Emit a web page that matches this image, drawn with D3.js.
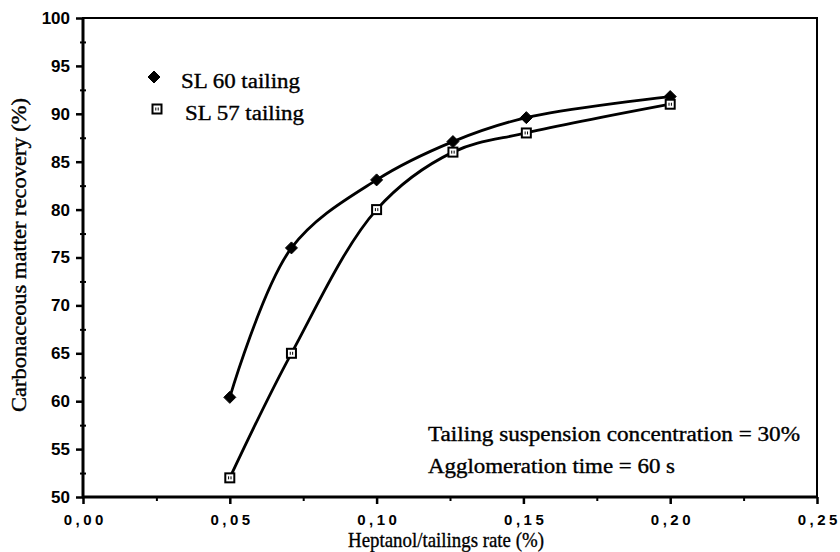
<!DOCTYPE html>
<html>
<head>
<meta charset="UTF-8">
<script src="https://d3js.org/d3.v7.min.js"></script>
<style>
  body { margin: 0; background: #fff; }
  .tick text { font-family: "Liberation Sans", Arial, sans-serif; font-weight: bold; fill: #000; }
  .serif { font-family: "Liberation Serif", "Times New Roman", serif; fill: #000; stroke: #000; stroke-width: 0.35px; }
</style>
</head>
<body>
<svg id="chart" width="840" height="552"></svg>
<script>
  // rate (%) and recovery (%)
  var rates60 = [0.05, 0.071, 0.10, 0.126, 0.151, 0.20];
  var recov60 = [60.4, 76.0, 83.1, 87.1, 89.6, 91.8];
  var rates57 = [0.05, 0.071, 0.10, 0.126, 0.151, 0.20];
  var recov57 = [52.0, 65.0, 80.0, 86.0, 88.0, 91.0];
  var xTicks = [0, 0.05, 0.10, 0.15, 0.20, 0.25];
  var yTicks = [50, 55, 60, 65, 70, 75, 80, 85, 90, 95, 100];
  var notes = ["Tailing suspension concentration = 30%", "Agglomeration time = 60 s"];
  var noteWidths = [372, 247];

  var svg = d3.select("#chart");
  var pLeft = 83, pRight = 817, pTop = 18, pBottom = 497;

  var x = d3.scaleLinear().domain([0, 0.25]).range([pLeft, pRight]);
  var y = d3.scaleLinear().domain([50, 100]).range([pBottom, pTop]);

  // minor ticks halfway between the majors
  var xMinor = xTicks.slice(0, -1).map(v => v + 0.025);
  var yMinor = yTicks.slice(0, -1).map(v => v + 2.5);

  svg.append("g").attr("transform", "translate(0," + pBottom + ")")
    .call(d3.axisBottom(x).tickValues(xMinor).tickSize(4).tickFormat(""))
    .call(g => g.select(".domain").remove())
    .selectAll("line").attr("stroke-width", 2);

  svg.append("g").attr("transform", "translate(" + pLeft + ",0)")
    .call(d3.axisLeft(y).tickValues(yMinor).tickSize(3).tickFormat(""))
    .call(g => g.select(".domain").remove())
    .selectAll("line").attr("stroke-width", 2).attr("x2", 3).attr("x1", -3);

  var fmt = d => d.toFixed(2).replace(".", ",");

  svg.append("g").attr("transform", "translate(0," + pBottom + ")")
    .call(d3.axisBottom(x).tickValues(xTicks).tickSize(7).tickPadding(10).tickFormat(fmt))
    .call(g => g.select(".domain").remove())
    .call(g => g.selectAll("text").style("font-size", "15px").attr("letter-spacing", "3.5px").attr("dx", "1.75px"))
    .selectAll("line").attr("stroke-width", 2.5);

  svg.append("g").attr("transform", "translate(" + pLeft + ",0)")
    .call(d3.axisLeft(y).tickValues(yTicks).tickSize(7).tickPadding(6))
    .call(g => g.select(".domain").remove())
    .call(g => g.selectAll("text").style("font-size", "17px"))
    .selectAll("line").attr("stroke-width", 2.5);

  // frame
  svg.append("rect")
    .attr("x", pLeft).attr("y", pTop)
    .attr("width", pRight - pLeft).attr("height", pBottom - pTop)
    .attr("fill", "none").attr("stroke", "#000").attr("stroke-width", 2);
  svg.append("line").attr("x1", pLeft).attr("x2", pLeft).attr("y1", pTop).attr("y2", pBottom + 1)
    .attr("stroke", "#000").attr("stroke-width", 3);
  svg.append("line").attr("x1", pLeft - 1).attr("x2", pRight).attr("y1", pBottom).attr("y2", pBottom)
    .attr("stroke", "#000").attr("stroke-width", 3);

  // curves
  var line = d3.line().curve(d3.curveCatmullRom.alpha(0.5))
    .x(d => x(d[0])).y(d => y(d[1]));

  var s60 = rates60.map((r, i) => [r, recov60[i]]);
  var s57 = rates57.map((r, i) => [r, recov57[i]]);

  [s60, s57].forEach(s => {
    svg.append("path").datum(s).attr("d", line)
      .attr("fill", "none").attr("stroke", "#000").attr("stroke-width", 2.8);
  });

  // squat filled diamond like the original marker
  var diamond = "M0,-6L6,0L0,6L-6,0Z";

  svg.selectAll(".m60").data(s60).enter().append("path")
    .attr("transform", d => "translate(" + x(d[0]) + "," + y(d[1]) + ")")
    .attr("d", diamond).attr("fill", "#000")
    .attr("stroke", "#000").attr("stroke-width", 1).attr("stroke-linejoin", "round");

  function square(g, cx, cy) {
    g.append("rect").attr("x", cx - 4.5).attr("y", cy - 4.5).attr("width", 9).attr("height", 9)
      .attr("fill", "#fff").attr("stroke", "#000").attr("stroke-width", 2);
    g.append("line").attr("x1", cx - 1.2).attr("x2", cx - 1.2).attr("y1", cy - 1.5).attr("y2", cy + 1.5)
      .attr("stroke", "#000").attr("stroke-width", 1);
    g.append("line").attr("x1", cx + 1.2).attr("x2", cx + 1.2).attr("y1", cy - 1.5).attr("y2", cy + 1.5)
      .attr("stroke", "#000").attr("stroke-width", 1);
  }

  var g57 = svg.append("g");
  s57.forEach(d => square(g57, x(d[0]), y(d[1])));

  // legend
  var leg = svg.append("g");
  leg.append("path").attr("transform", "translate(154,77)").attr("d", diamond).attr("fill", "#000")
    .attr("stroke", "#000").attr("stroke-width", 1).attr("stroke-linejoin", "round");
  leg.append("text").attr("class", "serif").attr("x", 181).attr("y", 88)
    .attr("textLength", 119).attr("lengthAdjust", "spacingAndGlyphs")
    .style("font-size", "20px").text("SL 60 tailing");
  square(leg, 157, 109);
  leg.append("text").attr("class", "serif").attr("x", 185).attr("y", 120)
    .attr("textLength", 119).attr("lengthAdjust", "spacingAndGlyphs")
    .style("font-size", "20px").text("SL 57 tailing");

  // notes
  svg.selectAll(".note").data(notes).enter().append("text")
    .attr("class", "serif")
    .attr("x", 428).attr("y", (d, i) => 441 + i * 32)
    .attr("textLength", (d, i) => noteWidths[i]).attr("lengthAdjust", "spacingAndGlyphs")
    .style("font-size", "20px").text(d => d);

  // axis titles
  svg.append("text").attr("class", "serif")
    .attr("x", 446).attr("y", 547).attr("text-anchor", "middle")
    .attr("textLength", 196).attr("lengthAdjust", "spacingAndGlyphs")
    .style("font-size", "22px").text("Heptanol/tailings rate (%)");

  svg.append("text").attr("class", "serif")
    .attr("transform", "translate(26,255) rotate(-90)").attr("text-anchor", "middle")
    .attr("textLength", 314).attr("lengthAdjust", "spacingAndGlyphs")
    .style("font-size", "20px").text("Carbonaceous matter recovery (%)");
</script>
</body>
</html>
